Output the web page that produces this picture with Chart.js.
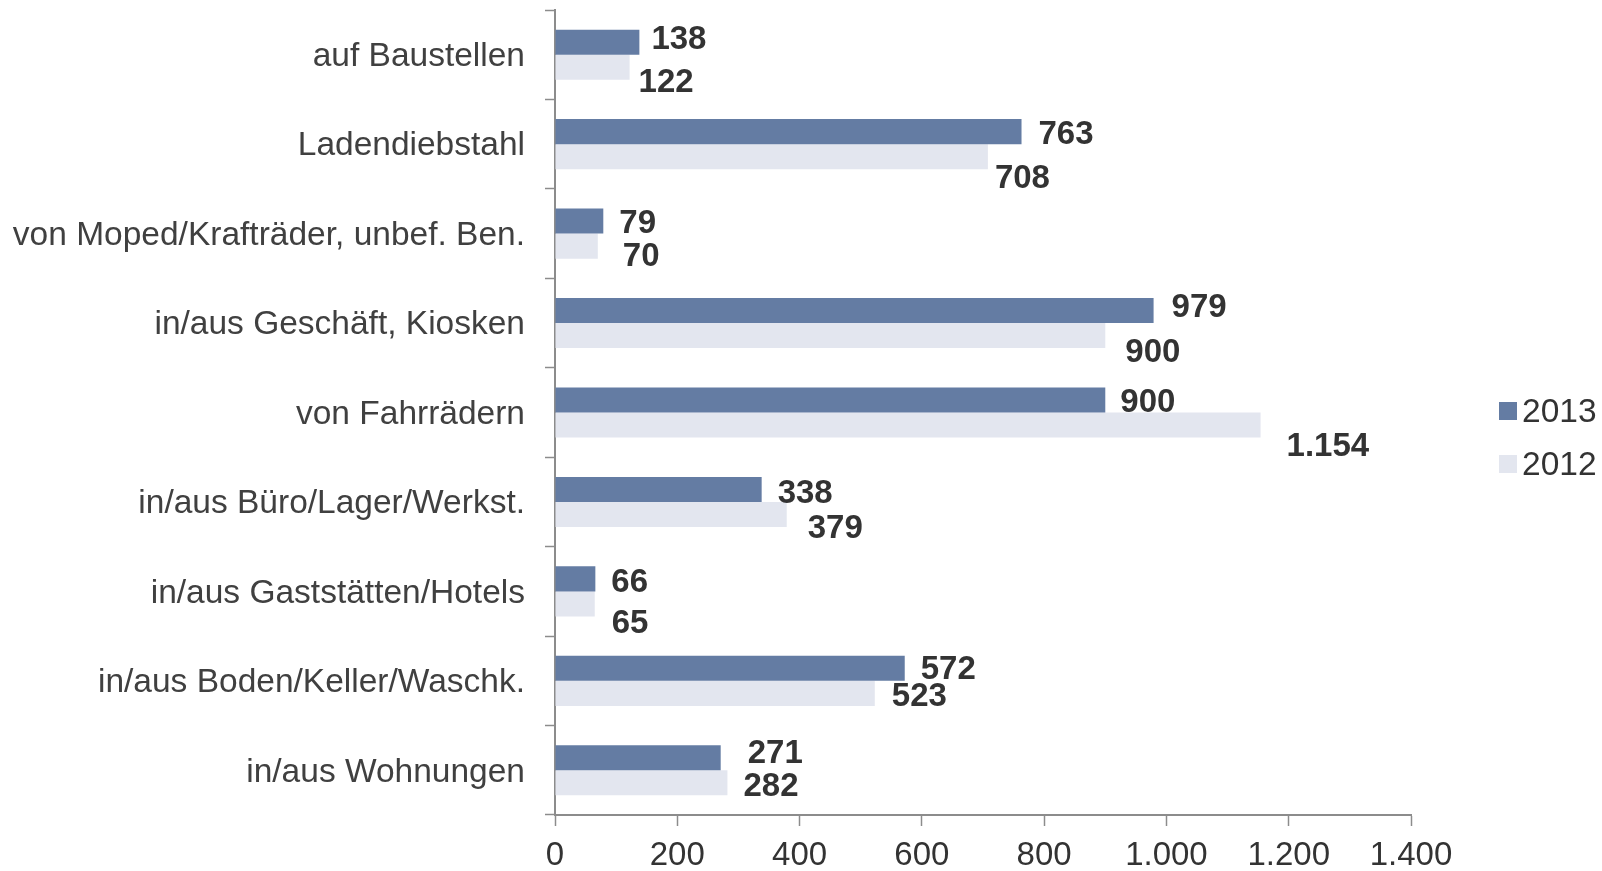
<!DOCTYPE html>
<html>
<head>
<meta charset="utf-8">
<script src="https://cdn.jsdelivr.net/npm/chart.js@4"></script>
<style>
  html, body { margin: 0; padding: 0; background: #fff; }
  #wrap { width: 1602px; height: 871px; }
</style>
</head>
<body>
<div id="wrap"><canvas id="chart" width="1602" height="871"></canvas></div>
<script>
// data
const categories = [
    "auf Baustellen",
    "Ladendiebstahl",
    "von Moped/Krafträder, unbef. Ben.",
    "in/aus Geschäft, Kiosken",
    "von Fahrrädern",
    "in/aus Büro/Lager/Werkst.",
    "in/aus Gaststätten/Hotels",
    "in/aus Boden/Keller/Waschk.",
    "in/aus Wohnungen"
];
const values2013 = [138, 763, 79, 979, 900, 338, 66, 572, 271];
const values2012 = [122, 708, 70, 900, 1154, 379, 65, 523, 282];
const xTicks = [0, 200, 400, 600, 800, 1000, 1200, 1400];

// label nudges (px) so the value labels sit like in the original
const nudgeX2013 = [12, 17, 16, 18, 15, 16, 16, 16, 27];
const nudgeY2013 = [-4, 1, 1, -5, 1, 2, 2, 0, -6];
const nudgeX2012 = [9, 7, 25, 20, 26, 21, 17, 17, 16];
const nudgeY2012 = [14, 20, 9, 15, 20, 12, 18, 2, 2];

const FONT = "'Liberation Sans', Arial, Helvetica, sans-serif";
const AXIS = "#8c8c8c";

// german thousands separator
function fmt(v) {
    return String(v).replace(/\B(?=(\d{3})+(?!\d))/g, ".");
}

// value labels next to the bars
const valueLabels = {
    id: "valueLabels",
    afterDatasetsDraw(chart) {
        let ctx = chart.ctx;
        ctx.save();
        ctx.font = "bold 33px " + FONT;
        ctx.fillStyle = "#333333";
        ctx.textAlign = "left";
        ctx.textBaseline = "middle";
        chart.data.datasets.forEach((ds, i) => {
            let nx = i === 0 ? nudgeX2013 : nudgeX2012;
            let ny = i === 0 ? nudgeY2013 : nudgeY2012;
            chart.getDatasetMeta(i).data.forEach((bar, j) => {
                ctx.fillText(fmt(ds.data[j]), bar.x + nx[j], bar.y + ny[j] + 2);
            });
        });
        ctx.restore();
    }
};

// legend on the right side
const sideLegend = {
    id: "sideLegend",
    afterDraw(chart) {
        let ctx = chart.ctx;
        ctx.save();
        ctx.font = "33.5px " + FONT;
        ctx.textAlign = "left";
        ctx.textBaseline = "middle";
        chart.data.datasets.forEach((ds, i) => {
            let y = 411 + i * 53;
            ctx.fillStyle = ds.backgroundColor;
            ctx.fillRect(1499, y - 9, 18, 18);
            ctx.fillStyle = "#333333";
            ctx.fillText(ds.label, 1522, y + 2);
        });
        ctx.restore();
    }
};

new Chart(document.getElementById("chart"), {
    type: "bar",
    data: {
        labels: categories,
        datasets: [
            { label: "2013", data: values2013, backgroundColor: "#647ca3" },
            { label: "2012", data: values2012, backgroundColor: "#e3e6ef" }
        ]
    },
    options: {
        indexAxis: "y",
        responsive: false,
        animation: false,
        devicePixelRatio: 1,
        layout: { padding: { top: 10, right: 191, left: 0, bottom: 0 } },
        datasets: { bar: { categoryPercentage: 0.56, barPercentage: 1 } },
        plugins: {
            legend: { display: false },
            tooltip: { enabled: false }
        },
        scales: {
            x: {
                min: 0,
                max: 1400,
                afterBuildTicks: s => { s.ticks = xTicks.map(v => ({ value: v })); },
                afterFit: s => { s.height = 56; },
                grid: { drawOnChartArea: false, drawTicks: true, tickLength: 11, tickColor: AXIS, tickWidth: 1.5 },
                border: { display: true, color: AXIS, width: 2 },
                ticks: {
                    padding: 10,
                    color: "#333333",
                    font: { family: FONT, size: 33 },
                    callback: v => fmt(v),
                    maxRotation: 0
                }
            },
            y: {
                afterFit: s => { s.width = 555; s.paddingTop = 0; s.paddingBottom = 0; },
                grid: { offset: true, drawOnChartArea: false, drawTicks: true, tickLength: 10, tickColor: AXIS, tickWidth: 1.5 },
                border: { display: true, color: AXIS, width: 2 },
                ticks: {
                    padding: 20,
                    labelOffset: 2,
                    color: "#404040",
                    font: { family: FONT, size: 33.5 }
                }
            }
        }
    },
    plugins: [valueLabels, sideLegend]
});
</script>
</body>
</html>
